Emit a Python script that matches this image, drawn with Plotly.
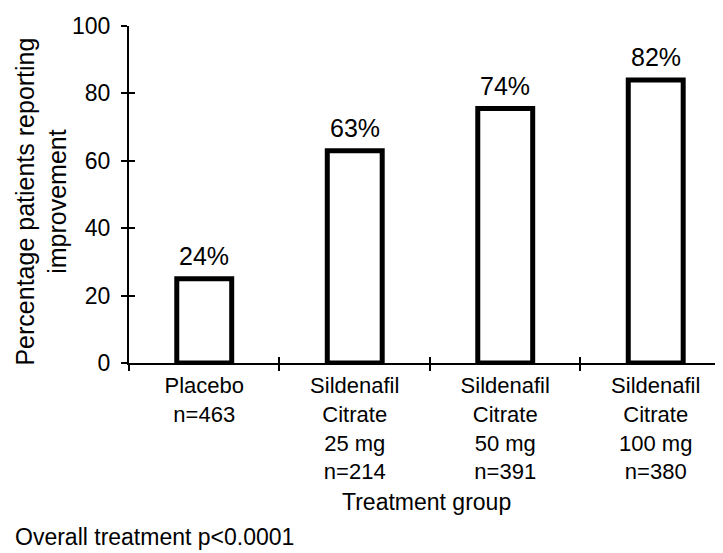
import plotly.graph_objects as go

# ---- data ----
categories = ["Placebo", "Sildenafil 25 mg", "Sildenafil 50 mg", "Sildenafil 100 mg"]
tick_labels = [
    "Placebo<br>n=463",
    "Sildenafil<br>Citrate<br>25 mg<br>n=214",
    "Sildenafil<br>Citrate<br>50 mg<br>n=391",
    "Sildenafil<br>Citrate<br>100 mg<br>n=380",
]
values = [25.0, 63.0, 75.5, 84.0]          # bar heights as drawn
value_labels = ["24%", "63%", "74%", "82%"]  # printed labels
y_ticks = [0, 20, 40, 60, 80, 100]
boundary_ticks = [-0.5, 0.5, 1.5, 2.5]

FONT = "Liberation Sans, Arial, sans-serif"
OFF = 8  # page body margin of the html page
W, H = 723 - OFF, 553 - OFF
ML, MR, MT = 128.5 - OFF, 0, 25.7 - OFF
MB = (553 - 363.3)
PW = W - ML - MR
PH = H - MT - MB

X_RANGE = [-0.5, 3.447]
Y_RANGE = [0, 100]


def px_to_paper_x(px):
    # px in screen (window) coordinates
    return (px - OFF - ML) / PW


def px_to_paper_y(py):
    return (H - MB - (py - OFF)) / PH


fig = go.Figure()

fig.add_trace(go.Bar(
    x=categories,
    y=values,
    width=0.365,
    marker=dict(color="white", line=dict(color="black", width=5)),
    showlegend=False,
    hoverinfo="skip",
))

# invisible trace to carry the overlay axes (inside ticks -> crossing ticks)
fig.add_trace(go.Scatter(
    x=[X_RANGE[0]], y=[0], xaxis="x2", yaxis="y2",
    mode="markers", marker=dict(opacity=0), showlegend=False, hoverinfo="skip",
))

fig.update_layout(
    width=W, height=H,
    margin=dict(l=ML, r=MR, t=MT, b=MB, pad=0),
    plot_bgcolor="white", paper_bgcolor="white",
    font=dict(family=FONT, color="black"),
    xaxis=dict(
        type="category",
        categoryorder="array", categoryarray=categories,
        range=X_RANGE,
        tickmode="array", tickvals=categories, ticktext=tick_labels,
        tickson="boundaries",
        ticks="outside", ticklen=6, tickwidth=1.5, tickcolor="black",
        showline=True, linecolor="black", linewidth=2,
        showgrid=False, zeroline=False,
        tickfont=dict(family=FONT, size=22, color="black"),
        ticklabelstandoff=2,
    ),
    yaxis=dict(
        range=Y_RANGE,
        tickmode="array", tickvals=y_ticks,
        ticks="outside", ticklen=6, tickwidth=1.5, tickcolor="black",
        showline=True, linecolor="black", linewidth=2,
        showgrid=False, zeroline=False,
        tickfont=dict(family=FONT, size=23, color="black"),
        ticklabelstandoff=6,
    ),
    xaxis2=dict(
        overlaying="x", range=X_RANGE,
        tickmode="array", tickvals=boundary_ticks,
        ticks="inside", ticklen=6, tickwidth=1.5, tickcolor="black",
        showticklabels=False, showline=False, showgrid=False, zeroline=False,
    ),
    yaxis2=dict(
        overlaying="y", range=Y_RANGE,
        tickmode="array", tickvals=y_ticks,
        ticks="inside", ticklen=6, tickwidth=1.5, tickcolor="black",
        showticklabels=False, showline=False, showgrid=False, zeroline=False,
    ),
)

# value labels above the bars
for cat, val, lab in zip(categories, values, value_labels):
    fig.add_annotation(
        x=cat, y=val, xref="x", yref="y",
        text=lab, showarrow=False,
        xanchor="center", yanchor="bottom", yshift=7,
        font=dict(family=FONT, size=25, color="black"),
    )

fig.add_annotation(
    text="Percentage patients reporting<br>improvement",
    xref="paper", yref="paper",
    x=px_to_paper_x(41), y=px_to_paper_y(202),
    xanchor="center", yanchor="middle",
    textangle=-90, showarrow=False,
    font=dict(family=FONT, size=25, color="black"),
)

fig.add_annotation(
    text="Treatment group",
    xref="paper", yref="paper",
    x=0.5, y=px_to_paper_y(503),
    xanchor="center", yanchor="middle",
    showarrow=False,
    font=dict(family=FONT, size=23, color="black"),
)

fig.add_annotation(
    text="Overall treatment p<0.0001",
    xref="paper", yref="paper",
    x=px_to_paper_x(12), y=px_to_paper_y(538),
    xanchor="left", yanchor="middle",
    showarrow=False,
    font=dict(family=FONT, size=23, color="black"),
)

fig.write_html("out.html")
